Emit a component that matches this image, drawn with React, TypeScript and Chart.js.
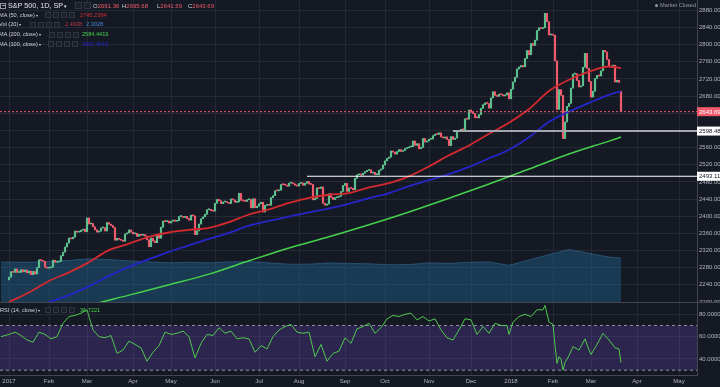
import React, { useEffect, useRef } from 'react';
import { Chart, registerables } from 'chart.js';

Chart.register(...registerables);

// ---------------- data (trading-day index 0 = 2017-01-03) ----------------
const jan2017 = [2257.83, 2270.75, 2269.0, 2276.98, 2268.9, 2268.9, 2275.32, 2270.44, 2274.64, 2267.89, 2271.89, 2263.69, 2271.31, 2265.2, 2280.07, 2298.37, 2296.68, 2294.69, 2280.9, 2278.87];
const feb2017 = [2279.55, 2280.85, 2297.42, 2292.56, 2293.08, 2294.67, 2307.87, 2316.1, 2328.25, 2337.58, 2349.25, 2347.22, 2351.16, 2365.38, 2362.82, 2363.81, 2367.34, 2369.75, 2363.64];
const mar2017 = [2395.96, 2381.92, 2383.12, 2375.31, 2368.39, 2362.98, 2364.87, 2372.6, 2373.47, 2365.45, 2385.26, 2381.38, 2378.25, 2373.47, 2344.02, 2348.45, 2345.96, 2343.98, 2341.59, 2358.57, 2361.13, 2368.06, 2362.72];
const apr2017 = [2358.84, 2360.16, 2352.95, 2357.49, 2355.54, 2357.16, 2353.78, 2344.93, 2328.95, 2349.01, 2342.19, 2338.17, 2355.84, 2348.69, 2374.15, 2388.61, 2387.45, 2388.77, 2384.2];
const may2017 = [2388.33, 2391.17, 2388.13, 2389.52, 2399.29, 2399.38, 2396.92, 2399.63, 2394.44, 2390.9, 2402.32, 2400.67, 2357.03, 2365.72, 2381.73, 2394.02, 2398.42, 2404.39, 2415.07, 2415.82, 2412.91, 2411.8];
const jun2017 = [2430.06, 2439.07, 2436.1, 2429.33, 2433.14, 2433.79, 2431.77, 2429.39, 2440.35, 2437.92, 2432.46, 2433.15, 2453.46, 2437.03, 2435.61, 2434.5, 2438.3, 2439.07, 2419.38, 2440.69, 2419.7, 2423.41];
const jul2017 = [2429.01, 2432.54, 2409.75, 2425.18, 2427.43, 2425.53, 2443.25, 2447.83, 2459.27, 2459.14, 2460.61, 2473.83, 2473.45, 2472.54, 2469.91, 2477.13, 2477.83, 2475.42, 2472.1, 2470.3];
const aug2017 = [2476.35, 2477.57, 2472.16, 2476.83, 2480.91, 2474.92, 2474.02, 2438.21, 2441.32, 2465.84, 2464.61, 2468.11, 2430.01, 2425.55, 2428.37, 2452.51, 2444.04, 2438.97, 2443.05, 2444.24, 2446.3, 2457.59, 2471.65];
const sep2017 = [2476.55, 2457.85, 2465.54, 2465.1, 2461.43, 2488.11, 2496.48, 2498.37, 2495.62, 2500.23, 2503.87, 2506.65, 2508.24, 2500.6, 2502.22, 2496.66, 2496.84, 2507.04, 2510.06, 2519.36];
const oct2017 = [2529.12, 2534.58, 2537.74, 2552.07, 2549.33, 2544.73, 2550.64, 2555.24, 2550.93, 2553.17, 2557.64, 2559.36, 2561.26, 2562.1, 2575.21, 2564.98, 2569.13, 2557.15, 2560.4, 2581.07, 2572.83, 2575.26];
const nov2017 = [2579.36, 2579.85, 2587.84, 2591.13, 2590.64, 2594.38, 2584.62, 2582.3, 2584.84, 2578.87, 2564.62, 2585.64, 2578.85, 2582.14, 2599.03, 2597.08, 2602.42, 2601.42, 2627.04, 2626.07, 2647.58];
const dec2017 = [2642.22, 2639.44, 2629.57, 2629.27, 2636.98, 2651.5, 2659.99, 2664.11, 2662.85, 2652.01, 2675.81, 2690.16, 2681.47, 2679.25, 2684.57, 2683.34, 2680.5, 2682.62, 2687.54, 2673.61];
const jan2018 = [2695.81, 2713.06, 2723.99, 2743.15, 2747.71, 2751.29, 2748.23, 2767.56, 2786.24, 2776.42, 2802.56, 2798.03, 2810.3, 2832.97, 2839.13, 2837.54, 2839.25, 2872.87, 2853.53, 2822.43, 2823.81];
const feb2018 = [2821.98, 2762.13, 2648.94, 2695.14, 2681.66, 2581.0, 2619.55, 2656.0, 2662.94, 2698.63, 2731.2, 2732.22, 2716.26, 2701.33, 2703.96, 2747.3, 2779.6, 2744.28, 2713.83];
const mar2018 = [2677.67, 2691.25, 2720.94, 2728.12, 2726.8, 2738.97, 2786.57, 2783.02, 2765.31, 2749.48, 2747.33, 2752.01, 2712.92, 2716.94, 2711.93, 2643.69];

const closes = [...jan2017, ...feb2017, ...mar2017, ...apr2017, ...may2017, ...jun2017, ...jul2017, ...aug2017, ...sep2017, ...oct2017, ...nov2017, ...dec2017, ...jan2018, ...feb2018, ...mar2018];
const firstOpen = 2251.57;
const lastOhlc = { open: 2691.36, high: 2695.68, low: 2641.59, close: 2643.69 };

// moving averages: [day index, value]
const ma50Points: [number, number][] = [[0, 2200], [10, 2222], [20, 2249], [30, 2269], [40, 2293], [50, 2321], [60, 2336], [70, 2352], [80, 2362], [90, 2368], [100, 2373], [110, 2386], [120, 2404], [130, 2416], [140, 2431], [150, 2443], [160, 2450], [170, 2454], [180, 2467], [190, 2477], [200, 2493], [210, 2516], [220, 2542], [230, 2565], [240, 2592], [250, 2618], [260, 2650], [270, 2692], [280, 2718], [290, 2737], [300, 2749], [306, 2745.24]];
const ma100Points: [number, number][] = [[0, 2178], [10, 2188], [20, 2200], [30, 2216], [40, 2237], [50, 2261], [60, 2282], [70, 2300], [80, 2317], [90, 2332], [100, 2347], [110, 2361], [120, 2378], [130, 2389], [140, 2399], [150, 2409], [160, 2418], [170, 2429], [180, 2442], [190, 2454], [200, 2470], [210, 2484], [220, 2498], [230, 2515], [240, 2535], [250, 2555], [260, 2584], [270, 2620], [280, 2644], [290, 2664], [300, 2683], [306, 2691]];
const ma200Points: [number, number][] = [[0, 2140], [20, 2163], [40, 2192], [60, 2216], [80, 2240], [100, 2265], [120, 2296], [140, 2326], [160, 2352], [180, 2380], [200, 2410], [220, 2442], [240, 2475], [260, 2510], [280, 2545], [300, 2575], [306, 2584.44]];
const volMaPoints: [number, number][] = [[-4, 2.09], [0, 2.09], [10, 2.08], [20, 2.12], [30, 2.18], [40, 2.26], [50, 2.22], [60, 2.15], [70, 2.1], [80, 2.05], [90, 2.08], [100, 2.05], [110, 2.1], [120, 2.12], [130, 2.05], [140, 1.98], [150, 1.98], [160, 2.05], [170, 2.02], [180, 2.0], [190, 1.95], [200, 1.96], [210, 2.05], [220, 2.02], [230, 2.08], [240, 2.1], [250, 1.92], [260, 2.2], [270, 2.48], [280, 2.75], [290, 2.55], [300, 2.35], [306, 2.3]];
const rsiPoints: [number, number][] = [[-4, 60], [0, 62], [3, 64], [6, 61], [9, 57], [12, 55], [15, 64], [18, 62], [21, 58], [24, 60], [27, 72], [30, 78], [33, 79], [36, 81], [39, 84], [42, 66], [45, 60], [48, 59], [51, 61], [54, 45], [57, 48], [60, 56], [63, 53], [66, 50], [69, 38], [72, 46], [75, 52], [78, 64], [81, 62], [84, 63], [87, 65], [90, 60], [93, 41], [96, 54], [99, 62], [102, 61], [105, 68], [108, 63], [111, 65], [114, 58], [117, 59], [120, 58], [123, 46], [126, 52], [129, 49], [132, 60], [135, 66], [138, 69], [141, 71], [144, 64], [147, 63], [150, 64], [153, 42], [156, 53], [159, 38], [162, 45], [165, 47], [168, 59], [171, 54], [174, 67], [177, 69], [180, 72], [183, 63], [186, 68], [189, 76], [192, 79], [195, 78], [198, 80], [201, 81], [204, 75], [207, 78], [210, 74], [213, 76], [216, 66], [219, 59], [222, 57], [225, 66], [228, 76], [231, 75], [234, 62], [237, 69], [240, 63], [243, 72], [246, 70], [249, 70], [250, 62], [252, 73], [255, 78], [258, 80], [261, 78], [264, 84], [267, 84], [268, 88], [270, 73], [272, 71], [273, 52], [274, 36], [275, 42], [276, 40], [277, 30], [278, 37], [280, 43], [282, 51], [285, 48], [288, 58], [290, 48], [291, 44], [294, 53], [297, 63], [300, 57], [303, 50], [305, 49], [306, 36.72]];

const monthTickDays = [0, 20, 39, 62, 81, 103, 125, 145, 168, 188, 210, 231, 251, 272, 291, 314, 335];
const monthTickLabels = ['2017', 'Feb', 'Mar', 'Apr', 'May', 'Jun', 'Jul', 'Aug', 'Sep', 'Oct', 'Nov', 'Dec', '2018', 'Feb', 'Mar', 'Apr', 'May'];
const priceTicks = [2200, 2240, 2280, 2320, 2360, 2400, 2440, 2480, 2520, 2560, 2600, 2640, 2680, 2720, 2760, 2800, 2840, 2880];
const rsiTicks = [40, 60, 80];
const rsiBands = [70, 30];
const levelValues = [2598.48, 2493.11];
const levelStartDays = [222, 149];

const legendMa50 = '2745.2384';
const legendVol = ['2.4938', '2.3028'];
const legendMa200 = '2584.4419';
const legendMa100 = '2691.4012';
const legendRsi = '36.7221';

// ---------------- style ----------------
const FONT = '"Liberation Sans", Arial, sans-serif';
const BG = '#151924';
const GRID = '#252935';
const AXIS_BORDER = '#434651';
const AXIS_TEXT = '#b2b5be';
const UP = '#5bbf8e';
const DOWN = '#ef5a6c';
const X_MIN = -4.5;
const X_MAX = 344;

const pts = (arr: [number, number][]) => arr.map(([x, y]) => ({ x, y }));

const zeroPad = (s: any) => {
  s.paddingTop = 0;
  s.paddingBottom = 0;
  s.paddingLeft = 0;
  s.paddingRight = 0;
};

function xScale(showLabels: boolean): any {
  return {
    type: 'linear',
    min: X_MIN,
    max: X_MAX,
    offset: false,
    grid: { color: GRID, lineWidth: 1, drawTicks: false, offset: false },
    border: { display: showLabels, color: AXIS_BORDER },
    ticks: {
      display: showLabels,
      color: AXIS_TEXT,
      font: { family: FONT, size: 6 },
      padding: 3,
      maxRotation: 0,
      autoSkip: false,
      callback: (v: number) => {
        const k = monthTickDays.indexOf(v);
        return k >= 0 ? monthTickLabels[k] : '';
      },
    },
    afterBuildTicks: (s: any) => {
      s.ticks = monthTickDays.map((v) => ({ value: v }));
    },
    afterFit: (s: any) => {
      s.height = showLabels ? 12 : 0;
      zeroPad(s);
    },
  };
}

const lastClose = closes[closes.length - 1];

const priceTagPlugin = {
  id: 'priceTags',
  afterDraw(chart: any) {
    const { ctx } = chart;
    const y = chart.scales.y;
    const tags = [
      { v: lastClose, bg: '#ef5a6c', fg: '#ffffff' },
      { v: levelValues[0], bg: '#ffffff', fg: '#131722' },
      { v: levelValues[1], bg: '#ffffff', fg: '#131722' },
    ];
    ctx.save();
    tags.forEach((t) => {
      const py = y.getPixelForValue(t.v);
      ctx.fillStyle = t.bg;
      ctx.fillRect(y.left, py - 4.5, y.width, 9);
      ctx.fillStyle = t.fg;
      ctx.font = `6px ${FONT}`;
      ctx.textBaseline = 'middle';
      ctx.textAlign = 'left';
      ctx.fillText(t.v.toFixed(2), y.left + 2, py + 0.5);
    });
    ctx.restore();
  },
};

function makePriceChart(canvas: HTMLCanvasElement) {
  const opens = closes.map((c, i) => (i === 0 ? firstOpen : i === closes.length - 1 ? lastOhlc.open : closes[i - 1]));
  const candleData = closes.map((c, i) => ({ x: i, y: [opens[i], c] }));
  const candleColors = closes.map((c, i) => (c >= opens[i] ? UP : DOWN));
  const line = (data: any[], color: string, width: number, order: number, extra: any = {}) => ({
    type: 'line',
    data,
    borderColor: color,
    borderWidth: width,
    pointRadius: 0,
    fill: false,
    order,
    yAxisID: 'y',
    ...extra,
  });
  return new Chart(canvas, {
    type: 'bar',
    data: {
      datasets: [
        {
          type: 'line',
          data: pts(volMaPoints),
          yAxisID: 'yVol',
          fill: 'origin',
          backgroundColor: 'rgba(33,105,150,0.42)',
          borderColor: 'rgba(60,120,165,0.6)',
          borderWidth: 0.8,
          pointRadius: 0,
          order: 10,
        },
        {
          type: 'bar',
          data: candleData,
          backgroundColor: candleColors,
          barThickness: 1.5,
          minBarLength: 1,
          borderWidth: 0,
          order: 5,
          yAxisID: 'y',
        },
        line(pts(ma200Points), '#45d14c', 1.5, 3, { cubicInterpolationMode: 'monotone' }),
        line(pts(ma100Points), '#2626c8', 1.8, 2, { cubicInterpolationMode: 'monotone' }),
        line(pts(ma50Points), '#d32a30', 1.8, 1, { cubicInterpolationMode: 'monotone' }),
        line([{ x: levelStartDays[0], y: levelValues[0] }, { x: X_MAX, y: levelValues[0] }], '#a3a6af', 2, 0),
        line([{ x: levelStartDays[1], y: levelValues[1] }, { x: X_MAX, y: levelValues[1] }], '#ffffff', 1.2, 0),
        line([{ x: X_MIN, y: lastClose }, { x: X_MAX, y: lastClose }], '#ef5a6c', 1, 0, { borderDash: [2, 2] }),
      ] as any,
    },
    options: {
      animation: false,
      responsive: false,
      maintainAspectRatio: false,
      events: [],
      layout: { padding: 0 },
      plugins: { legend: { display: false }, tooltip: { enabled: false } },
      scales: {
        x: xScale(false),
        y: {
          type: 'linear',
          position: 'right',
          min: 2200,
          max: 2904,
          grid: { color: GRID, drawTicks: false },
          border: { display: true, color: AXIS_BORDER },
          ticks: {
            color: AXIS_TEXT,
            font: { family: FONT, size: 6 },
            padding: 2,
            autoSkip: false,
            callback: (v: any) => Number(v).toFixed(2),
          },
          afterBuildTicks: (s: any) => {
            s.ticks = priceTicks.map((v) => ({ value: v }));
          },
          afterFit: (s: any) => {
            s.width = 23;
            zeroPad(s);
          },
        },
        yVol: { type: 'linear', display: false, min: 0, max: 15.8 },
      } as any,
    },
    plugins: [priceTagPlugin],
  } as any);
}

function makeRsiChart(canvas: HTMLCanvasElement) {
  return new Chart(canvas, {
    type: 'line',
    data: {
      datasets: [
        {
          data: [{ x: X_MIN, y: rsiBands[0] }, { x: X_MAX, y: rsiBands[0] }],
          borderColor: '#9598a1',
          borderWidth: 1,
          borderDash: [3, 3],
          pointRadius: 0,
          fill: false,
          order: 3,
        },
        {
          data: [{ x: X_MIN, y: rsiBands[1] }, { x: X_MAX, y: rsiBands[1] }],
          borderColor: '#9598a1',
          borderWidth: 1,
          borderDash: [3, 3],
          pointRadius: 0,
          fill: '-1',
          backgroundColor: 'rgba(120,75,210,0.24)',
          order: 2,
        },
        {
          data: pts(rsiPoints),
          borderColor: '#4fc94f',
          borderWidth: 1,
          pointRadius: 0,
          fill: false,
          order: 1,
        },
      ] as any,
    },
    options: {
      animation: false,
      responsive: false,
      maintainAspectRatio: false,
      events: [],
      layout: { padding: 0 },
      plugins: { legend: { display: false }, tooltip: { enabled: false } },
      scales: {
        x: xScale(true),
        y: {
          type: 'linear',
          position: 'right',
          min: 25.68,
          max: 90.11,
          grid: { color: GRID, drawTicks: false },
          border: { display: true, color: AXIS_BORDER },
          ticks: {
            color: AXIS_TEXT,
            font: { family: FONT, size: 6 },
            padding: 2,
            autoSkip: false,
            callback: (v: any) => Number(v).toFixed(4),
          },
          afterBuildTicks: (s: any) => {
            s.ticks = rsiTicks.map((v) => ({ value: v }));
          },
          afterFit: (s: any) => {
            s.width = 23;
            zeroPad(s);
          },
        },
      } as any,
    },
  } as any);
}

// ---------------- legend helpers ----------------
function T(props: { x: number; cy: number; size: number; color: string; children: any }) {
  const lh = props.size + 2;
  return (
    <span
      style={{
        position: 'absolute',
        left: props.x,
        top: props.cy - lh / 2,
        fontSize: props.size,
        lineHeight: `${lh}px`,
        color: props.color,
        whiteSpace: 'nowrap',
        fontFamily: FONT,
      }}
    >
      {props.children}
    </span>
  );
}

const Caret = () => <span style={{ fontSize: '0.75em', marginLeft: 1 }}>▾</span>;

function Btns(props: { x: number; cy: number; n: number; size?: number }) {
  const s = props.size ?? 6;
  const items = [];
  for (let k = 0; k < props.n; k++) {
    items.push(
      <span
        key={k}
        style={{
          position: 'absolute',
          left: props.x + k * (s + 2),
          top: props.cy - s / 2 - 0.5,
          width: s,
          height: s,
          border: '1px solid #323643',
          background: '#1b1f2a',
          boxSizing: 'border-box',
        }}
      />
    );
  }
  return <>{items}</>;
}

const LEG = '#cfd2da';
const LS = 5.6;

export default function App() {
  const priceRef = useRef<HTMLCanvasElement>(null);
  const rsiRef = useRef<HTMLCanvasElement>(null);

  useEffect(() => {
    const c1 = makePriceChart(priceRef.current as HTMLCanvasElement);
    const c2 = makeRsiChart(rsiRef.current as HTMLCanvasElement);
    return () => {
      c1.destroy();
      c2.destroy();
    };
  }, []);

  return (
    <div
      style={{
        position: 'fixed',
        left: 0,
        top: 0,
        width: 720,
        height: 387,
        background: BG,
        overflow: 'hidden',
        fontFamily: FONT,
      }}
    >
      <canvas ref={priceRef} width={720} height={302} style={{ position: 'absolute', left: 0, top: 0 }} />
      <div style={{ position: 'absolute', left: 0, top: 302, width: 720, height: 1, background: AXIS_BORDER }} />
      <canvas ref={rsiRef} width={720} height={84} style={{ position: 'absolute', left: 0, top: 303 }} />

      {/* header row */}
      <span
        style={{
          position: 'absolute',
          left: 0,
          top: 2.5,
          width: 6,
          height: 6,
          border: '1px solid #9598a1',
          boxSizing: 'border-box',
        }}
      />
      <span style={{ position: 'absolute', left: 1.5, top: 5, width: 3, height: 1, background: '#9598a1' }} />
      <T x={8} cy={6} size={7.2} color="#e3e5ea">S&amp;P 500, 1D, SP<Caret /></T>
      <Btns x={75} cy={6} n={2} size={7} />
      <T x={93} cy={6.3} size={6} color={LEG}>O<span style={{ color: DOWN }}>{lastOhlc.open.toFixed(2)}</span></T>
      <T x={122} cy={6.3} size={6} color={LEG}>H<span style={{ color: DOWN }}>{lastOhlc.high.toFixed(2)}</span></T>
      <T x={157} cy={6.3} size={6} color={LEG}>L<span style={{ color: DOWN }}>{lastOhlc.low.toFixed(2)}</span></T>
      <T x={188} cy={6.3} size={6} color={LEG}>C<span style={{ color: DOWN }}>{lastOhlc.close.toFixed(2)}</span></T>

      <T x={-1} cy={15.7} size={LS} color={LEG}>MA (50, close)<Caret /></T>
      <Btns x={45} cy={15.7} n={4} />
      <T x={80} cy={15.7} size={LS} color="#d32a30">{legendMa50}</T>

      <T x={-1} cy={25} size={LS} color={LEG}>Vol (20)<Caret /></T>
      <Btns x={30} cy={25} n={4} />
      <T x={65} cy={25} size={LS} color="#b83546">{legendVol[0]}</T>
      <T x={86} cy={25} size={LS} color="#3f86d6">{legendVol[1]}</T>

      <T x={-1} cy={35} size={LS} color={LEG}>MA (200, close)<Caret /></T>
      <Btns x={49} cy={35} n={4} />
      <T x={82} cy={35} size={LS} color="#45d14c">{legendMa200}</T>

      <T x={-1} cy={44.3} size={LS} color={LEG}>MA (100, close)<Caret /></T>
      <Btns x={48} cy={44.3} n={4} />
      <T x={82} cy={44.3} size={LS} color="#2626c8">{legendMa100}</T>

      <span
        style={{
          position: 'absolute',
          left: 655,
          top: 4,
          width: 3,
          height: 3,
          borderRadius: 2,
          background: '#9598a1',
        }}
      />
      <T x={660} cy={5.7} size={5.6} color="#9598a1">Market Closed</T>

      {/* RSI legend */}
      <T x={0} cy={310.7} size={LS} color={LEG}>RSI (14, close)<Caret /></T>
      <Btns x={45} cy={310.7} n={4} />
      <T x={80} cy={310.7} size={LS} color="#45d14c">{legendRsi}</T>
    </div>
  );
}
